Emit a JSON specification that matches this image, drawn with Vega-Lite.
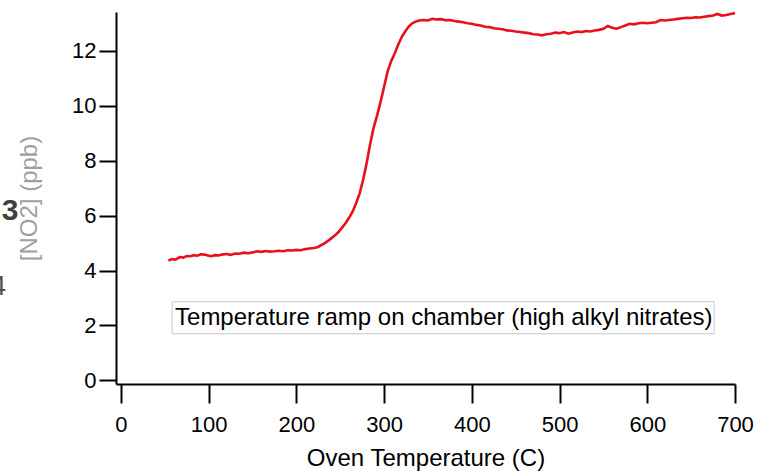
{
  "$schema": "https://vega.github.io/schema/vega-lite/v6.json",
  "width": 619,
  "height": 372,
  "autosize": {"type": "none"},
  "padding": {"left": 116, "top": 12, "right": 22, "bottom": 87},
  "background": "white",
  "config": {"view": {"stroke": null}, "font": "Liberation Sans"},
  "encoding": {
    "x": {
      "field": "T", "type": "quantitative",
      "scale": {"domain": [-5.7, 700], "nice": false, "zero": false},
      "axis": {
        "values": [0, 100, 200, 300, 400, 500, 600, 700],
        "grid": false, "domainColor": "black", "domainWidth": 2,
        "tickColor": "black", "tickWidth": 2, "tickSize": 19,
        "labelFont": "Liberation Sans", "labelFontSize": 22, "labelColor": "black",
        "labelPadding": 11, "labelFlush": false,
        "title": "Oven Temperature (C)", "titleFont": "Liberation Sans",
        "titleFontSize": 24, "titleFontWeight": "normal", "titleColor": "black",
        "titlePadding": 11
      }
    },
    "y": {
      "field": "v", "type": "quantitative",
      "scale": {"domain": [-0.13, 13.41], "nice": false, "zero": false},
      "axis": {
        "values": [0, 2, 4, 6, 8, 10, 12],
        "grid": false, "domainColor": "black", "domainWidth": 2,
        "tickColor": "black", "tickWidth": 2, "tickSize": 17,
        "labelFont": "Liberation Sans", "labelFontSize": 22, "labelColor": "black",
        "labelPadding": 3, "labelFlush": false,
        "title": "[NO2] (ppb)", "titleFont": "Liberation Sans",
        "titleFontSize": 24, "titleFontWeight": "normal", "titleColor": "#a0a0a0",
        "titlePadding": 30
      }
    }
  },
  "layer": [
    {
      "data": {"values": [
        {"T": 54, "v": 4.36}, {"T": 58, "v": 4.42}, {"T": 62, "v": 4.40}, {"T": 67, "v": 4.49},
        {"T": 71, "v": 4.47}, {"T": 75, "v": 4.53}, {"T": 79, "v": 4.52}, {"T": 83, "v": 4.56},
        {"T": 87, "v": 4.54}, {"T": 91, "v": 4.59}, {"T": 95, "v": 4.58}, {"T": 99, "v": 4.55},
        {"T": 103, "v": 4.52}, {"T": 107, "v": 4.56}, {"T": 111, "v": 4.55}, {"T": 115, "v": 4.58},
        {"T": 120, "v": 4.60}, {"T": 125, "v": 4.57}, {"T": 130, "v": 4.62}, {"T": 135, "v": 4.61},
        {"T": 140, "v": 4.65}, {"T": 145, "v": 4.63}, {"T": 150, "v": 4.66}, {"T": 155, "v": 4.70},
        {"T": 160, "v": 4.68}, {"T": 165, "v": 4.71}, {"T": 170, "v": 4.69}, {"T": 175, "v": 4.70},
        {"T": 180, "v": 4.72}, {"T": 185, "v": 4.70}, {"T": 190, "v": 4.74}, {"T": 195, "v": 4.73},
        {"T": 200, "v": 4.75}, {"T": 205, "v": 4.74}, {"T": 210, "v": 4.78}, {"T": 215, "v": 4.80},
        {"T": 220, "v": 4.82}, {"T": 224, "v": 4.85}, {"T": 228, "v": 4.92}, {"T": 232, "v": 4.99},
        {"T": 236, "v": 5.08}, {"T": 240, "v": 5.18}, {"T": 244, "v": 5.28}, {"T": 248, "v": 5.40},
        {"T": 252, "v": 5.56}, {"T": 256, "v": 5.72}, {"T": 260, "v": 5.92}, {"T": 264, "v": 6.14},
        {"T": 268, "v": 6.45}, {"T": 272, "v": 6.80}, {"T": 276, "v": 7.30}, {"T": 280, "v": 7.90},
        {"T": 284, "v": 8.60}, {"T": 288, "v": 9.20}, {"T": 292, "v": 9.65}, {"T": 296, "v": 10.15},
        {"T": 300, "v": 10.70}, {"T": 304, "v": 11.25}, {"T": 308, "v": 11.62}, {"T": 312, "v": 11.90},
        {"T": 316, "v": 12.22}, {"T": 320, "v": 12.50}, {"T": 324, "v": 12.70}, {"T": 328, "v": 12.88},
        {"T": 332, "v": 13.00}, {"T": 336, "v": 13.06}, {"T": 340, "v": 13.10}, {"T": 345, "v": 13.12},
        {"T": 350, "v": 13.10}, {"T": 355, "v": 13.16}, {"T": 360, "v": 13.14}, {"T": 365, "v": 13.15},
        {"T": 370, "v": 13.11}, {"T": 375, "v": 13.12}, {"T": 380, "v": 13.08}, {"T": 385, "v": 13.06},
        {"T": 390, "v": 13.04}, {"T": 395, "v": 13.00}, {"T": 400, "v": 12.98}, {"T": 405, "v": 12.94},
        {"T": 410, "v": 12.92}, {"T": 415, "v": 12.87}, {"T": 420, "v": 12.86}, {"T": 425, "v": 12.82},
        {"T": 430, "v": 12.80}, {"T": 435, "v": 12.78}, {"T": 440, "v": 12.74}, {"T": 445, "v": 12.73},
        {"T": 450, "v": 12.70}, {"T": 455, "v": 12.68}, {"T": 460, "v": 12.66}, {"T": 465, "v": 12.64},
        {"T": 470, "v": 12.60}, {"T": 475, "v": 12.59}, {"T": 480, "v": 12.56}, {"T": 485, "v": 12.60},
        {"T": 490, "v": 12.62}, {"T": 495, "v": 12.66}, {"T": 500, "v": 12.64}, {"T": 505, "v": 12.68},
        {"T": 510, "v": 12.62}, {"T": 515, "v": 12.66}, {"T": 520, "v": 12.70}, {"T": 525, "v": 12.68},
        {"T": 530, "v": 12.72}, {"T": 535, "v": 12.70}, {"T": 540, "v": 12.74}, {"T": 545, "v": 12.76},
        {"T": 550, "v": 12.80}, {"T": 555, "v": 12.90}, {"T": 560, "v": 12.84}, {"T": 565, "v": 12.80},
        {"T": 570, "v": 12.86}, {"T": 575, "v": 12.92}, {"T": 580, "v": 12.98}, {"T": 585, "v": 12.96},
        {"T": 590, "v": 13.00}, {"T": 595, "v": 13.02}, {"T": 600, "v": 13.00}, {"T": 605, "v": 13.02},
        {"T": 610, "v": 13.04}, {"T": 615, "v": 13.12}, {"T": 620, "v": 13.10}, {"T": 625, "v": 13.12},
        {"T": 630, "v": 13.14}, {"T": 635, "v": 13.16}, {"T": 640, "v": 13.18}, {"T": 645, "v": 13.20},
        {"T": 650, "v": 13.19}, {"T": 655, "v": 13.22}, {"T": 660, "v": 13.21}, {"T": 665, "v": 13.24},
        {"T": 670, "v": 13.26}, {"T": 675, "v": 13.28}, {"T": 680, "v": 13.34}, {"T": 685, "v": 13.28},
        {"T": 690, "v": 13.30}, {"T": 695, "v": 13.34}, {"T": 700, "v": 13.37}
      ]},
      "mark": {"type": "line", "color": "#e8101a", "strokeWidth": 2.6, "interpolate": "linear"}
    },
    {
      "data": {"values": [{"T": 58.2, "T2": 676.2, "v": 2.862, "v2": 1.698}]},
      "mark": {"type": "rect", "fill": "white", "stroke": "#c8c8c8", "strokeWidth": 1},
      "encoding": {"x2": {"field": "T2"}, "y2": {"field": "v2"}}
    },
    {
      "data": {"values": [{"T": 61.6, "v": 2.28, "label": "Temperature ramp on chamber (high alkyl nitrates)"}]},
      "mark": {"type": "text", "align": "left", "baseline": "middle", "font": "Liberation Sans", "fontSize": 24, "color": "black"},
      "encoding": {"text": {"field": "label"}}
    },
    {
      "data": {"values": [{"T": -126.5, "v": 6.17, "label": "3"}]},
      "mark": {"type": "text", "align": "center", "baseline": "middle", "font": "Liberation Sans", "fontSize": 30, "fontWeight": "bold", "color": "#404040"},
      "encoding": {"text": {"field": "label"}}
    },
    {
      "data": {"values": [{"T": -131, "v": 3.41, "label": "4"}]},
      "mark": {"type": "text", "align": "right", "baseline": "middle", "font": "Liberation Sans", "fontSize": 28, "color": "#505050"},
      "encoding": {"text": {"field": "label"}}
    }
  ]
}
